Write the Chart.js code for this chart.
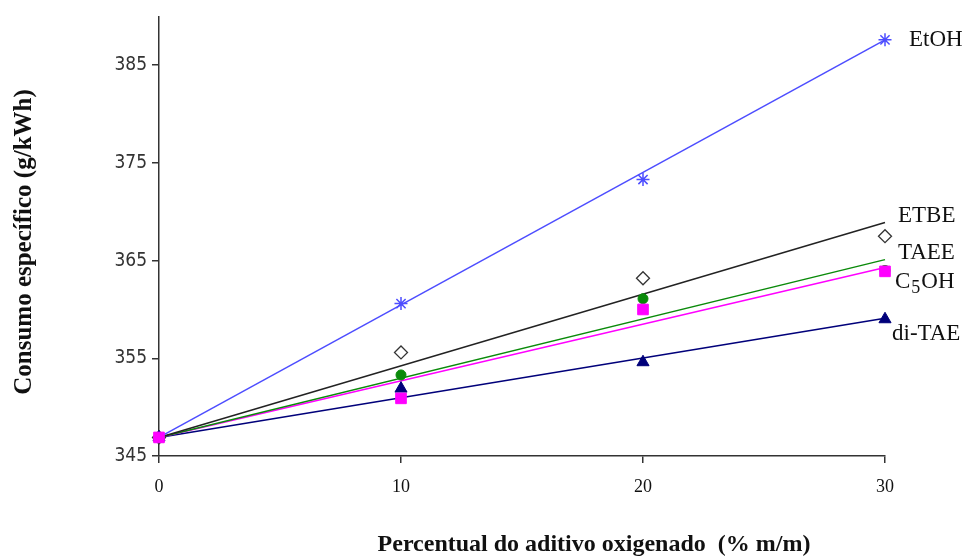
<!DOCTYPE html>
<html>
<head>
<meta charset="utf-8">
<script src="https://cdn.jsdelivr.net/npm/chart.js@4.4.1/dist/chart.umd.min.js"></script>
<style>
  html, body { margin: 0; padding: 0; background: #fff; }
  #wrap { width: 969px; height: 557px; }
</style>
</head>
<body>
<div id="wrap"><canvas id="chart" width="969" height="557"></canvas></div>
<script>
// percentual do aditivo (% m/m)
const xValues = [0, 10, 20, 30];
const xTicks = [0, 10, 20, 30];
const yTicks = [345, 355, 365, 375, 385];

const seriesNames = ['EtOH', 'ETBE', 'TAEE', 'C5OH', 'di-TAE'];
// measured points
const etoh  = [346.9, 360.6, 373.3, 387.6];
const etbe  = [346.9, 355.6, 363.2, 367.5];
const taee  = [346.9, 353.3, 361.1, 364.0];
const c5oh  = [346.9, 350.9, 360.0, 363.9];
const ditae = [346.9, 351.9, 354.6, 359.0];
// trend lines (value at 0 and at 30)
const trendStart = [346.9, 346.9, 346.9, 346.9, 346.9];
const trendEnd   = [387.6, 368.9, 365.1, 364.3, 359.1];
// where the name labels sit (y value)
const labelY = [387.6, 369.6, 365.8, 362.8, 357.5];

const xTitle = 'Percentual do aditivo oxigenado  (% m/m)';
const yTitle = 'Consumo específico (g/kWh)';

const colors = ['#4d4dff', '#222222', '#0a8a0a', '#ff00ff', '#00007a'];

const pts = v => v.map((y, i) => ({ x: xValues[i], y: y }));

// first in the list is drawn on top
const pointSets = [
  { data: pts(c5oh), pointStyle: 'rect', pointRadius: 7.5, borderColor: colors[3], backgroundColor: colors[3], pointBorderWidth: 1 },
  { data: pts(ditae), pointStyle: 'triangle', pointRadius: 7, borderColor: colors[4], backgroundColor: colors[4], pointBorderWidth: 1 },
  { data: pts(taee), pointStyle: 'circle', pointRadius: 5, borderColor: colors[2], backgroundColor: colors[2], pointBorderWidth: 1 },
  { data: pts(etbe), pointStyle: 'rectRot', pointRadius: 6.5, borderColor: '#333', backgroundColor: '#fff', pointBorderWidth: 1.3 },
  { data: pts(etoh), pointStyle: 'star', pointRadius: 6.5, borderColor: colors[0], backgroundColor: colors[0], pointBorderWidth: 1.5 }
].map(d => Object.assign({ showLine: false, order: 0, clip: false }, d));

const lineSets = seriesNames.map((n, i) => ({
  data: [{ x: 0, y: trendStart[i] }, { x: 30, y: trendEnd[i] }],
  showLine: true,
  borderColor: colors[i],
  borderWidth: 1.5,
  pointRadius: 0,
  order: 1,
  clip: false
}));

const serif = '"Liberation Serif", "Times New Roman", serif';
const sans = '"DejaVu Sans Condensed", "DejaVu Sans", sans-serif';

const textPlugin = {
  id: 'texts',
  afterDatasetsDraw(chart) {
    const ctx = chart.ctx;
    const xs = chart.scales.x, ys = chart.scales.y;
    ctx.save();
    ctx.fillStyle = '#111';
    ctx.textBaseline = 'middle';
    ctx.textAlign = 'left';
    const offs = [24, 13, 13, 10, 7];
    seriesNames.forEach((n, i) => {
      const px = xs.getPixelForValue(30) + offs[i];
      const py = ys.getPixelForValue(labelY[i]);
      ctx.font = '23px ' + serif;
      if (n === 'C5OH') {
        ctx.fillText('C', px, py);
        let w = ctx.measureText('C').width;
        ctx.font = '18px ' + serif;
        ctx.fillText('5', px + w + 1, py + 6);
        w += ctx.measureText('5').width + 2;
        ctx.font = '23px ' + serif;
        ctx.fillText('OH', px + w, py);
      } else {
        ctx.fillText(n, px, py);
      }
    });
    // axis titles
    ctx.font = 'bold 24px ' + serif;
    ctx.textAlign = 'center';
    ctx.fillText(xTitle, 594, 545);
    ctx.translate(25, 242);
    ctx.rotate(-Math.PI / 2);
    ctx.font = 'bold 25px ' + serif;
    ctx.fillText(yTitle, 0, 0);
    ctx.restore();
  }
};

new Chart(document.getElementById('chart'), {
  type: 'scatter',
  data: { datasets: pointSets.concat(lineSets) },
  options: {
    responsive: false,
    animation: false,
    layout: { padding: { top: 5, right: 84, left: 0, bottom: 0 } },
    plugins: { legend: { display: false }, tooltip: { enabled: false } },
    scales: {
      x: {
        type: 'linear',
        min: 0,
        max: 30,
        afterBuildTicks: s => { s.ticks = xTicks.map(v => ({ value: v })); },
        afterFit: s => { s.height = 101; },
        grid: { display: true, drawOnChartArea: false, tickLength: 7, color: '#333', lineWidth: 1.5 },
        border: { color: '#333', width: 1.5 },
        ticks: { color: '#111', font: { family: serif, size: 18 }, padding: 13 }
      },
      y: {
        type: 'linear',
        min: 345,
        max: 390,
        afterBuildTicks: s => { s.ticks = yTicks.map(v => ({ value: v })); },
        afterFit: s => { s.width = 159; },
        grid: { display: true, drawOnChartArea: false, tickLength: 7, color: '#333', lineWidth: 1.5 },
        border: { color: '#333', width: 1.5 },
        ticks: { color: '#333', font: { family: sans, size: 19 }, padding: 5 }
      }
    }
  },
  plugins: [textPlugin]
});
</script>
</body>
</html>
